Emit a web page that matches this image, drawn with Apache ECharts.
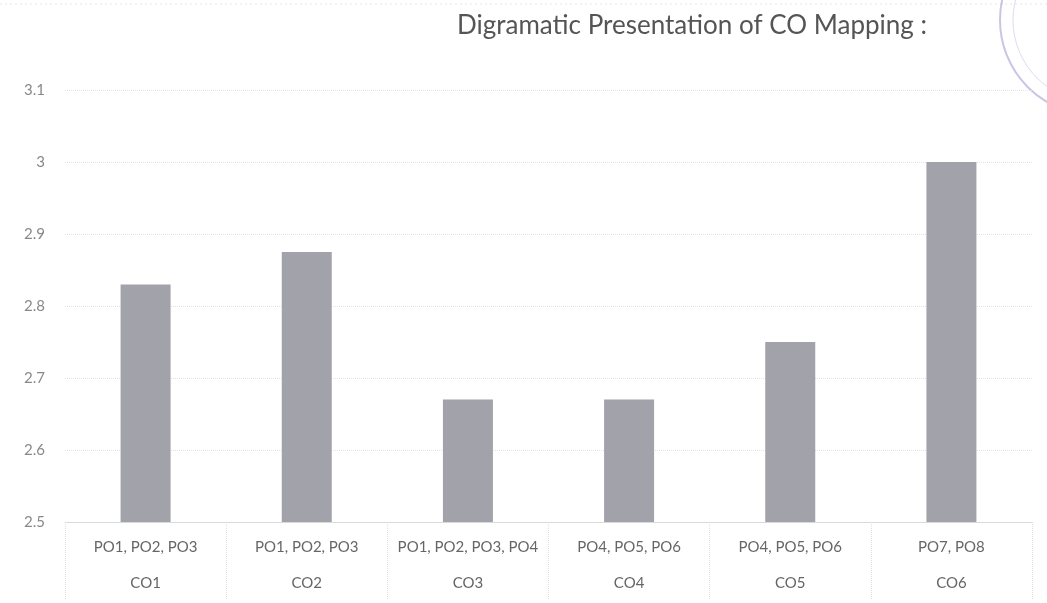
<!DOCTYPE html>
<html>
<head>
<meta charset="utf-8">
<script src="https://cdn.jsdelivr.net/npm/echarts@6/dist/echarts.min.js"></script>
<style>
  html, body { margin: 0; padding: 0; background: #ffffff; }
  #chart { width: 1047px; height: 603px; }
</style>
</head>
<body>
<div id="chart"></div>
<script>
// Course outcomes, the programme outcomes each one maps to, and the mapping level
const courseOutcomes = ['CO1', 'CO2', 'CO3', 'CO4', 'CO5', 'CO6'];
const programOutcomes = ['PO1, PO2, PO3', 'PO1, PO2, PO3', 'PO1, PO2, PO3, PO4', 'PO4, PO5, PO6', 'PO4, PO5, PO6', 'PO7, PO8'];
const mappingLevel = [2.83, 2.875, 2.67, 2.67, 2.75, 3.0];
const titleText = 'Digramatic Presentation of CO Mapping :';

const FONT = 'Lato, "Open Sans", "Liberation Sans", sans-serif';
const chart = echarts.init(document.getElementById('chart'));

chart.setOption({
  animation: false,
  backgroundColor: '#ffffff',
  title: {
    text: titleText,
    left: 452,
    top: 8,
    textStyle: { fontFamily: FONT, fontSize: 26, fontWeight: 'normal', color: '#555555' }
  },
  grid: { left: 65, right: 15, top: 90, bottom: 81 },
  xAxis: [
    {
      type: 'category',
      data: programOutcomes,
      position: 'bottom',
      boundaryGap: true,
      axisLine: { show: true, lineStyle: { color: '#d9d9d9', width: 1 } },
      axisTick: { show: true, alignWithLabel: false, length: 78, lineStyle: { color: '#e0e0e0', type: 'dotted' } },
      axisLabel: { interval: 0, margin: 18, fontFamily: FONT, fontSize: 15, color: '#666666' }
    },
    {
      type: 'category',
      data: courseOutcomes,
      position: 'bottom',
      offset: 36,
      boundaryGap: true,
      axisLine: { show: false },
      axisTick: { show: false },
      axisLabel: { interval: 0, margin: 18, fontFamily: FONT, fontSize: 15, color: '#666666' }
    }
  ],
  yAxis: {
    type: 'value',
    min: 2.5,
    max: 3.1,
    interval: 0.1,
    axisLine: { show: false },
    axisTick: { show: false },
    splitLine: { show: true, lineStyle: { color: '#e3e3e3', type: 'dotted', width: 1 } },
    axisLabel: {
      margin: 20,
      fontFamily: FONT,
      fontSize: 15,
      color: '#888888',
      formatter: v => String(Math.round(v * 10) / 10)
    }
  },
  series: [
    {
      type: 'bar',
      xAxisIndex: 0,
      data: mappingLevel,
      barWidth: 50,
      itemStyle: { color: '#a2a2aa' }
    }
  ],
  graphic: [
    {
      // faint outer frame line along the top
      type: 'line',
      shape: { x1: 0, y1: 4, x2: 1047, y2: 4 },
      style: { stroke: '#e6e6e6', lineWidth: 1, lineDash: [2, 3] }
    },
    {
      // college seal in the top right corner
      type: 'circle',
      shape: { cx: 1095, cy: 20, r: 95 },
      style: { fill: 'none', stroke: 'rgba(120,110,190,0.4)', lineWidth: 2 }
    },
    {
      type: 'circle',
      shape: { cx: 1095, cy: 20, r: 82 },
      style: { fill: 'none', stroke: 'rgba(120,110,190,0.25)', lineWidth: 1 }
    }
  ]
});
</script>
</body>
</html>
